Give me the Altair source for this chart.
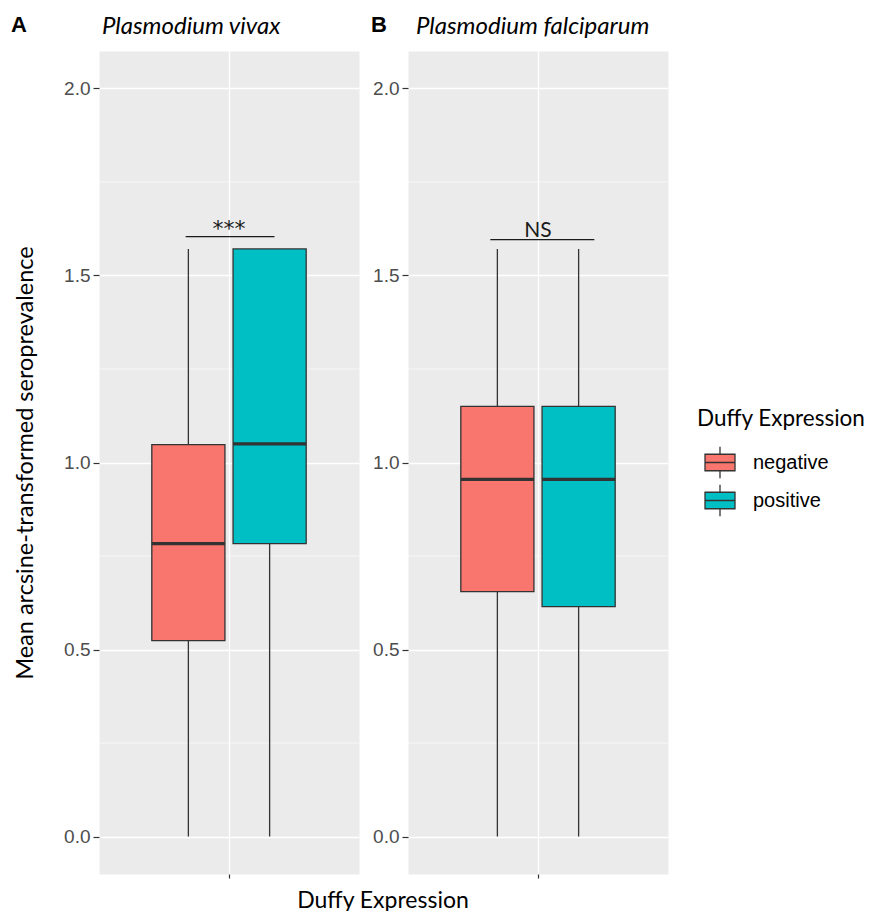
import altair as alt
import pandas as pd

# ---------------- data ----------------
groups = ["negative", "positive"]
colors = ["#F8766D", "#00BFC4"]
panel_letters = ["A", "B"]
panel_titles = ["Plasmodium vivax", "Plasmodium falciparum"]
x_category = "Duffy"

vivax_lower = [0.0, 0.0]
vivax_q1 = [0.524, 0.783]
vivax_median = [0.783, 1.050]
vivax_q3 = [1.048, 1.571]
vivax_upper = [1.571, 1.571]

falc_lower = [0.0, 0.0]
falc_q1 = [0.655, 0.615]
falc_median = [0.955, 0.955]
falc_q3 = [1.150, 1.150]
falc_upper = [1.571, 1.571]

sig_labels = ["***", "NS"]
sig_y = [1.604, 1.596]
sig_xmin = [0.80, 0.78]
sig_xmax = [1.21, 1.26]
sig_xmid = [1.0, 1.0]

y_ticks = [0.0, 0.5, 1.0, 1.5, 2.0]
y_minor = [0.25, 0.75, 1.25, 1.75]
y_domain = [-0.1, 2.1]
ann_domain = [0.4, 1.6]

YTITLE = "Mean arcsine-transformed seroprevalence"
XTITLE = "Duffy Expression"
DARK = "#333333"

BOX_SYMBOL = ("M-1,-0.55L1,-0.55L1,0.55L-1,0.55Z "
              "M-1,0L1,0 M0,-0.55L0,-1.05 M0,0.55L0,1.05")

PLOT_W = 260
PLOT_H = 823


def make_panel(i, lower, q1, med, q3, upper):
    first = i == 0
    df = pd.DataFrame({
        "cat": [x_category] * len(groups),
        "group": groups,
        "lower": lower, "q1": q1, "median": med, "q3": q3, "upper": upper,
    })
    yscale = alt.Scale(domain=y_domain, nice=False, zero=False)
    yaxis = alt.Axis(values=y_ticks, format=".1f",
                     title=YTITLE if first else None)
    if first:
        xaxis = alt.Axis(labels=False, grid=True, bandPosition=0.5,
                         title=XTITLE, titleX=283.5, titleY=33,
                         titleBaseline="alphabetic", titleAlign="center",
                         titleAnchor="start")
    else:
        xaxis = alt.Axis(labels=False, grid=True, bandPosition=0.5, title=None)
    xscale = alt.Scale(paddingInner=0, paddingOuter=0.3)
    X = alt.X("cat:N", scale=xscale, axis=xaxis)
    XO = alt.XOffset("group:N", scale=alt.Scale(domain=groups, paddingInner=0.1,
                                                 paddingOuter=0.05))

    base = alt.Chart(df)

    minor = alt.Chart(pd.DataFrame({"m": y_minor})).mark_rule(
        color="white", strokeWidth=0.6
    ).encode(y=alt.Y("m:Q", scale=yscale, axis=yaxis))

    whisk = base.mark_rule(color=DARK, strokeWidth=1.3).encode(
        x=X, xOffset=XO,
        y=alt.Y("lower:Q", scale=yscale, axis=yaxis), y2="upper:Q")

    box = base.mark_bar(stroke=DARK, strokeWidth=1.3).encode(
        x=X, xOffset=XO,
        y=alt.Y("q1:Q", scale=yscale, axis=yaxis), y2="q3:Q",
        color=alt.Color("group:N", scale=alt.Scale(domain=groups, range=colors),
                        legend=alt.Legend(title=XTITLE, symbolType=BOX_SYMBOL)))

    medl = base.mark_bar(stroke=DARK, strokeWidth=3.2, fill=DARK).encode(
        x=X, xOffset=XO,
        y=alt.Y("median:Q", scale=yscale, axis=yaxis), y2="median:Q")

    inner = alt.layer(minor, whisk, box, medl)

    sdf = pd.DataFrame({"xmin": [sig_xmin[i]], "xmax": [sig_xmax[i]],
                        "xmid": [sig_xmid[i]], "y": [sig_y[i]],
                        "label": [sig_labels[i]]})
    ascale = alt.Scale(domain=ann_domain, nice=False, zero=False)
    srule = alt.Chart(sdf).mark_rule(color="#1A1A1A", strokeWidth=1.3).encode(
        x=alt.X("xmin:Q", scale=ascale, axis=None), x2="xmax:Q",
        y=alt.Y("y:Q", scale=yscale, axis=yaxis))
    stext = alt.Chart(sdf).mark_text(
        font="DejaVu Sans" if first else "Lato",
        fontSize=22 if first else 21, color="#1A1A1A",
        baseline="alphabetic", dy=(-1 if first else -3)).encode(
        x=alt.X("xmid:Q", scale=ascale, axis=None),
        y=alt.Y("y:Q", scale=yscale, axis=yaxis), text="label:N")

    head = pd.DataFrame({"letter": [panel_letters[i]], "title": [panel_titles[i]]})
    letter = alt.Chart(head).mark_text(
        font="Liberation Sans", fontWeight="bold", fontSize=22, color="black",
        align="left", baseline="alphabetic"
    ).encode(text="letter:N", x=alt.value(-88 if first else -37), y=alt.value(-19))
    title = alt.Chart(head).mark_text(
        font="Lato", fontStyle="italic", fontSize=24, color="black",
        align="left", baseline="alphabetic"
    ).encode(text="title:N", x=alt.value(3 if first else 8), y=alt.value(-17))

    return alt.layer(inner, srule, stext, letter, title).resolve_scale(
        x="independent"
    ).properties(width=PLOT_W, height=PLOT_H)


pA = make_panel(0, vivax_lower, vivax_q1, vivax_median, vivax_q3, vivax_upper)
pB = make_panel(1, falc_lower, falc_q1, falc_median, falc_q3, falc_upper)

chart = alt.hconcat(pA, pB, spacing=49, bounds="flush").properties(
    padding={"left": 2, "top": 5, "right": 0, "bottom": 0}
).configure_view(
    fill="#EBEBEB", stroke="transparent"
).configure_axis(
    domain=False, gridColor="white", gridWidth=1.3, tickColor=DARK,
    tickWidth=1.2, labelFont="Liberation Sans", labelFontSize=19,
    labelColor="#4D4D4D", titleFont="Lato", titleFontSize=23,
    titleFontWeight="normal", titleColor="black"
).configure_axisY(
    tickSize=6, labelPadding=3, titlePadding=26, titleFontSize=23.5
).configure_axisX(
    tickSize=4
).configure_legend(
    orient="none", legendX=598, legendY=357,
    titleFont="Lato", titleFontSize=22.5, titleFontWeight="normal",
    titleColor="black", titlePadding=16,
    labelFont="Liberation Sans", labelFontSize=20, labelColor="black",
    labelOffset=17, symbolSize=900, symbolStrokeColor=DARK,
    symbolStrokeWidth=1.3, symbolOpacity=1, rowPadding=0, symbolOffset=7
)

chart.save("out.html", embed_options={"renderer": "svg", "actions": False})
